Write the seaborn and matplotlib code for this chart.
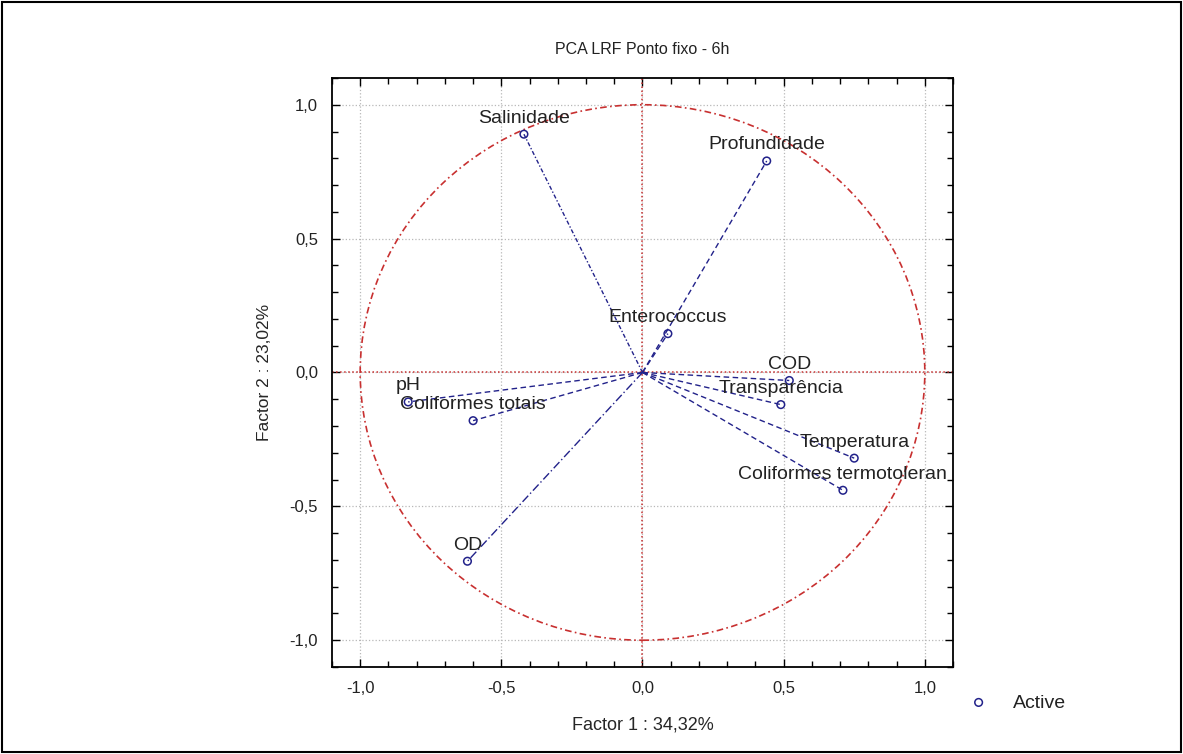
import numpy as np
import pandas as pd
import matplotlib
matplotlib.use("Agg")
import matplotlib.pyplot as plt
from matplotlib.patches import Circle, Rectangle
from matplotlib.ticker import MultipleLocator, FixedLocator, FuncFormatter
import seaborn as sns

# ---- data ----
variables = ["Salinidade", "Profundidade", "Enterococcus", "COD", "Transparência",
             "Temperatura", "Coliformes termotoleran", "pH", "Coliformes totais", "OD"]
factor1 = [-0.42, 0.44, 0.09, 0.52, 0.49, 0.75, 0.71, -0.83, -0.60, -0.62]
factor2 = [0.89, 0.79, 0.145, -0.03, -0.12, -0.32, -0.44, -0.11, -0.18, -0.705]
title = "PCA LRF Ponto fixo - 6h"
xlabel = "Factor 1 : 34,32%"
ylabel = "Factor 2 : 23,02%"
tick_values = [-1.0, -0.5, 0.0, 0.5, 1.0]
legend_label = "Active"

df = pd.DataFrame({"variable": variables, "f1": factor1, "f2": factor2})

sns.set_style("ticks")
plt.rcParams["font.family"] = ["Liberation Sans", "DejaVu Sans"]
plt.rcParams["text.color"] = "#222222"

fig = plt.figure(figsize=(11.83, 7.54), dpi=100)
ax = fig.add_axes([0.2806, 0.1154, 0.5250, 0.7812])

navy = "#22228a"
line_styles = {"Salinidade": (0, (3, 1.5, 1, 1.5)), "OD": (0, (6, 2, 1, 2))}

# grid at major ticks
for v in tick_values:
    ax.axvline(v, color="#b8b8b8", ls=":", lw=0.9, zorder=0)
    ax.axhline(v, color="#b8b8b8", ls=":", lw=0.9, zorder=0)

# center cross lines
ax.axvline(0, color="#c83030", ls=":", lw=1.1, zorder=1)
ax.axhline(0, color="#c83030", ls=":", lw=1.1, zorder=1)

# unit circle
ax.add_patch(Circle((0, 0), 1.0, fill=False, ec="#c83030", lw=1.2,
                    ls=(0, (4, 2, 1, 2)), zorder=1))

# vectors from origin
for _, r in df.iterrows():
    ax.plot([0, r.f1], [0, r.f2], color=navy, lw=1.0,
            ls=line_styles.get(r.variable, (0, (4, 2.5))), zorder=2)

sns.scatterplot(data=df, x="f1", y="f2", ax=ax, marker="o", s=30,
                facecolors="none", edgecolor=navy, linewidth=1.1,
                label=legend_label, zorder=3)

for _, r in df.iterrows():
    ax.annotate(r.variable, (r.f1, r.f2), xytext=(0, 11.5), textcoords="offset points",
                ha="center", va="center", fontsize=14, color="#222222",
                annotation_clip=False, zorder=4)

ax.set_xlim(-1.1, 1.1)
ax.set_ylim(-1.1, 1.1)
ax.xaxis.set_major_locator(FixedLocator(tick_values))
ax.yaxis.set_major_locator(FixedLocator(tick_values))
ax.xaxis.set_minor_locator(MultipleLocator(0.1))
ax.yaxis.set_minor_locator(MultipleLocator(0.1))
fmt = FuncFormatter(lambda v, p: f"{v:.1f}".replace(".", ","))
ax.xaxis.set_major_formatter(fmt)
ax.yaxis.set_major_formatter(fmt)
ax.tick_params(which="both", direction="in", top=True, right=True, color="black",
               labelsize=12, pad=10, labelcolor="#222222")
ax.tick_params(which="major", length=6, width=1)
ax.tick_params(which="minor", length=4, width=1)
for s in ax.spines.values():
    s.set_linewidth(1.3)
    s.set_color("black")

ax.set_xlabel(xlabel, fontsize=13, labelpad=15)
ax.set_ylabel(ylabel, fontsize=12.5, labelpad=13)
ax.set_title(title, fontsize=11.5, pad=17)

leg = ax.legend(loc="center left", bbox_to_anchor=(0.796, 0.068),
                bbox_transform=fig.transFigure, frameon=False,
                fontsize=14, handlelength=2.0, handletextpad=0.75)

fig.patches.append(Rectangle((0.002, 0.003), 0.996, 0.994, transform=fig.transFigure,
                             fill=False, ec="black", lw=1.5))

fig.savefig("out.png", dpi=100, facecolor="white")
